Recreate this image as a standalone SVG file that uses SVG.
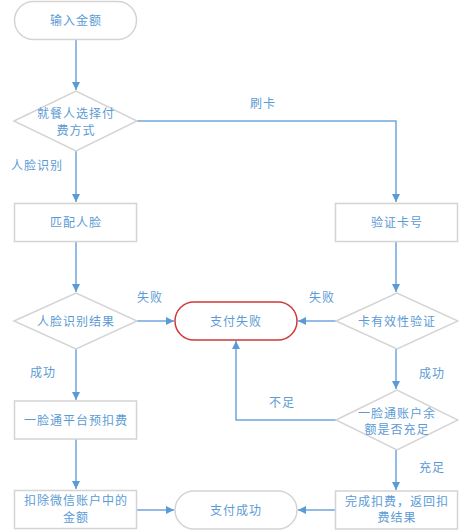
<svg xmlns="http://www.w3.org/2000/svg" width="459" height="531" viewBox="0 0 459 531">
<style>
text{font-family:"Noto Sans CJK SC","Liberation Sans",sans-serif;font-size:12px;fill:#5b9bd5;letter-spacing:1px}
.n{text-anchor:middle}
.box{fill:#fff;stroke:#d4d4d4;stroke-width:1.5}
.red{fill:#fff;stroke:#d0393b;stroke-width:1.5}
.c{fill:none;stroke:#6ea6dc;stroke-width:1.5}
</style>
<defs>
<marker id="a" viewBox="0 0 10 10" refX="10" refY="5" markerWidth="8" markerHeight="8" markerUnits="userSpaceOnUse" orient="auto">
<path d="M0,0L10,5L0,10z" fill="#5b9bd5"/>
</marker>
</defs>
<rect width="459" height="531" fill="#fff"/>
<g id="connectors">
<path class="c" d="M76,40V90" marker-end="url(#a)"/>
<path class="c" d="M137,121H396V202" marker-end="url(#a)"/>
<path class="c" d="M76,151V202" marker-end="url(#a)"/>
<path class="c" d="M76,241V292" marker-end="url(#a)"/>
<path class="c" d="M137,321H174" marker-end="url(#a)"/>
<path class="c" d="M396,241V292" marker-end="url(#a)"/>
<path class="c" d="M336,321H298" marker-end="url(#a)"/>
<path class="c" d="M396,349V389" marker-end="url(#a)"/>
<path class="c" d="M336,420H236V341" marker-end="url(#a)"/>
<path class="c" d="M396,450V490" marker-end="url(#a)"/>
<path class="c" d="M335,510H298" marker-end="url(#a)"/>
<path class="c" d="M76,349V400" marker-end="url(#a)"/>
<path class="c" d="M76,439V489" marker-end="url(#a)"/>
<path class="c" d="M137,510H174" marker-end="url(#a)"/>
<text class="n" x="263" y="108">刷卡</text>
<text class="n" x="37" y="170">人脸识别</text>
<text class="n" x="150" y="302">失败</text>
<text class="n" x="322" y="302">失败</text>
<text class="n" x="43" y="377">成功</text>
<text class="n" x="432" y="378">成功</text>
<text class="n" x="282" y="407">不足</text>
<text class="n" x="432" y="472">充足</text>
</g>
<g id="start"><rect class="box" x="14.5" y="1.5" width="122" height="38" rx="19"/><text class="n" x="76" y="24.5">输入金额</text></g>
<g id="choose"><path class="box" d="M14,121L76,91L137,121L76,151z"/><text class="n" x="76" y="117.5">就餐人选择付</text><text class="n" x="76" y="134.5">费方式</text></g>
<g id="match"><rect class="box" x="14.5" y="203.5" width="122" height="38"/><text class="n" x="76" y="226.5">匹配人脸</text></g>
<g id="faceresult"><path class="box" d="M14,321L76,293L137,321L76,349z"/><text class="n" x="76" y="325.5">人脸识别结果</text></g>
<g id="fail"><rect class="red" x="175" y="302" width="122" height="38" rx="19"/><text class="n" x="236" y="325.5">支付失败</text></g>
<g id="verify"><rect class="box" x="335.5" y="203.5" width="122" height="38"/><text class="n" x="397" y="226.5">验证卡号</text></g>
<g id="cardvalid"><path class="box" d="M336,321L397,293L458,321L397,349z"/><text class="n" x="397" y="325.5">卡有效性验证</text></g>
<g id="balance"><path class="box" d="M336,420L397,390L458,420L397,450z"/><text class="n" x="397" y="417.5">一脸通账户余</text><text class="n" x="397" y="433.5">额是否充足</text></g>
<g id="prededuct"><rect class="box" x="14.5" y="401" width="122" height="38"/><text class="n" x="76" y="424.5">一脸通平台预扣费</text></g>
<g id="deduct"><rect class="box" x="14.5" y="490.5" width="122" height="38"/><text class="n" x="76" y="505">扣除微信账户中的</text><text class="n" x="76" y="521.5">金额</text></g>
<g id="success"><rect class="box" x="175" y="491" width="122" height="38" rx="19"/><text class="n" x="236" y="514.5">支付成功</text></g>
<g id="complete"><rect class="box" x="335.5" y="491" width="122" height="38"/><text class="n" x="397" y="505.5">完成扣费，返回扣</text><text class="n" x="397" y="522">费结果</text></g>
</svg>
